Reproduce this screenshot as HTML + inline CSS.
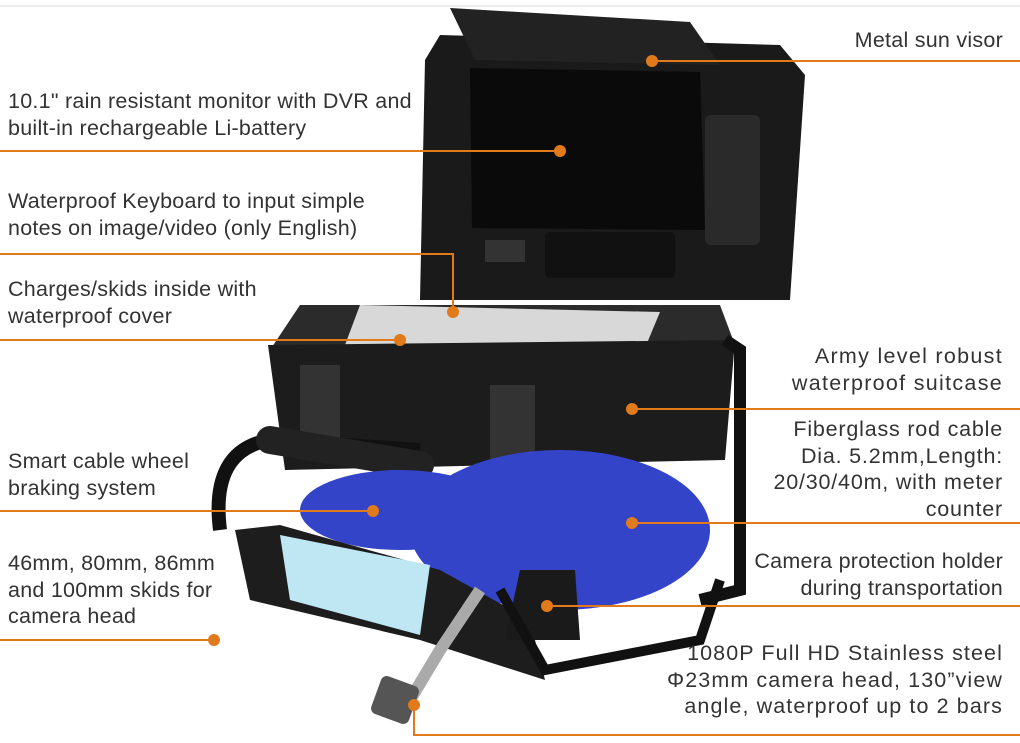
<!DOCTYPE html>
<html><head><meta charset="utf-8"><style>
html,body{margin:0;padding:0;background:#fff}
#c{position:relative;width:1020px;height:743px;overflow:hidden;font-family:"Liberation Sans",sans-serif;color:#333}
.t{position:absolute;font-size:21.5px;letter-spacing:0.25px;line-height:26.5px;white-space:nowrap}
.r{text-align:right;right:17px}
.l{left:8px}
</style></head><body><div id="c">
<svg width="1020" height="743" style="position:absolute;left:0;top:0">
<line x1="0" y1="6" x2="1020" y2="6" stroke="#eee" stroke-width="2"/>
<path d="M425 60 L440 35 L780 45 L805 75 L790 300 L420 300 Z" fill="#1a1a1a"/>
<path d="M470 68 L700 72 L705 230 L472 228 Z" fill="#0a0a0a"/>
<path d="M450 8 L690 22 L720 65 L475 60 Z" fill="#222"/>
<rect x="545" y="232" width="130" height="46" rx="5" fill="#111"/>
<rect x="485" y="240" width="40" height="22" fill="#333"/>
<rect x="705" y="115" width="55" height="130" rx="6" fill="#2a2a2a"/>
<path d="M300 305 L720 305 L735 345 L270 350 Z" fill="#2b2b2b"/>
<path d="M360 305 L660 312 L640 360 L345 345 Z" fill="#d8d8d8"/>
<path d="M268 345 L735 340 L725 460 L285 470 Z" fill="#1c1c1c"/>
<rect x="300" y="365" width="40" height="90" fill="#333"/>
<rect x="490" y="385" width="45" height="80" fill="#333"/>
<path d="M220 530 Q210 450 270 440 L420 450" stroke="#111" stroke-width="14" fill="none"/>
<path d="M270 440 L420 465" stroke="#222" stroke-width="28" fill="none" stroke-linecap="round"/>
<path d="M725 340 L740 350 L740 590 L700 600" stroke="#111" stroke-width="12" fill="none"/>
<ellipse cx="560" cy="530" rx="150" ry="80" fill="#3444c8"/>
<ellipse cx="400" cy="510" rx="100" ry="40" fill="#3444c8"/>
<path d="M235 530 L280 525 L440 570 L530 620 L545 680 L420 640 L250 600 Z" fill="#1d1d1d"/>
<path d="M280 535 L430 565 L420 635 L290 600 Z" fill="#bfe6f3"/>
<path d="M520 570 L575 570 L580 640 L505 640 Z" fill="#1a1a1a"/>
<path d="M500 590 L545 670 L700 640 L720 580" stroke="#111" stroke-width="10" fill="none"/>
<path d="M480 590 L440 650 L410 700" stroke="#aaa" stroke-width="12" fill="none"/>
<rect x="375" y="680" width="40" height="40" rx="6" fill="#555" transform="rotate(20 395 700)"/>
<g stroke="#e07a1b" stroke-width="2" fill="none">
<line x1="652" y1="61" x2="1020" y2="61"/>
<line x1="0" y1="151" x2="560" y2="151"/>
<polyline points="0,254 453,254 453,312"/>
<line x1="0" y1="340" x2="400" y2="340"/>
<line x1="632" y1="409" x2="1020" y2="409"/>
<line x1="632" y1="523" x2="1020" y2="523"/>
<line x1="0" y1="511" x2="373" y2="511"/>
<line x1="0" y1="640" x2="214" y2="640"/>
<line x1="547" y1="606" x2="1020" y2="606"/>
<polyline points="414,705 414,735 1020,735"/>
</g>
<g fill="#e07a1b">
<circle cx="652" cy="61" r="6"/><circle cx="560" cy="151" r="6"/><circle cx="453" cy="312" r="6"/>
<circle cx="400" cy="340" r="6"/><circle cx="632" cy="409" r="6"/><circle cx="632" cy="523" r="6"/>
<circle cx="373" cy="511" r="6"/><circle cx="214" cy="640" r="6"/><circle cx="547" cy="606" r="6"/>
<circle cx="414" cy="705" r="6"/>
</g>
</svg>
<div class="t r" style="top:27px">Metal sun visor</div>
<div class="t l" style="top:88px">10.1" rain resistant monitor with DVR and<br>built-in rechargeable Li-battery</div>
<div class="t l" style="top:188px">Waterproof Keyboard to input simple<br>notes on image/video (only English)</div>
<div class="t l" style="top:276px">Charges/skids inside with<br>waterproof cover</div>
<div class="t r" style="top:343px;letter-spacing:1.3px">Army level robust<br>waterproof suitcase</div>
<div class="t r" style="top:416px;letter-spacing:0.8px">Fiberglass rod cable<br>Dia. 5.2mm,Length:<br>20/30/40m, with meter<br>counter</div>
<div class="t l" style="top:448px">Smart cable wheel<br>braking system</div>
<div class="t l" style="top:550px">46mm, 80mm, 86mm<br>and 100mm skids for<br>camera head</div>
<div class="t r" style="top:548px">Camera protection holder<br>during transportation</div>
<div class="t r" style="top:640px;letter-spacing:1.1px">1080P Full HD Stainless steel<br>Φ23mm camera head, 130”view<br>angle, waterproof up to 2 bars</div>
</div></body></html>
